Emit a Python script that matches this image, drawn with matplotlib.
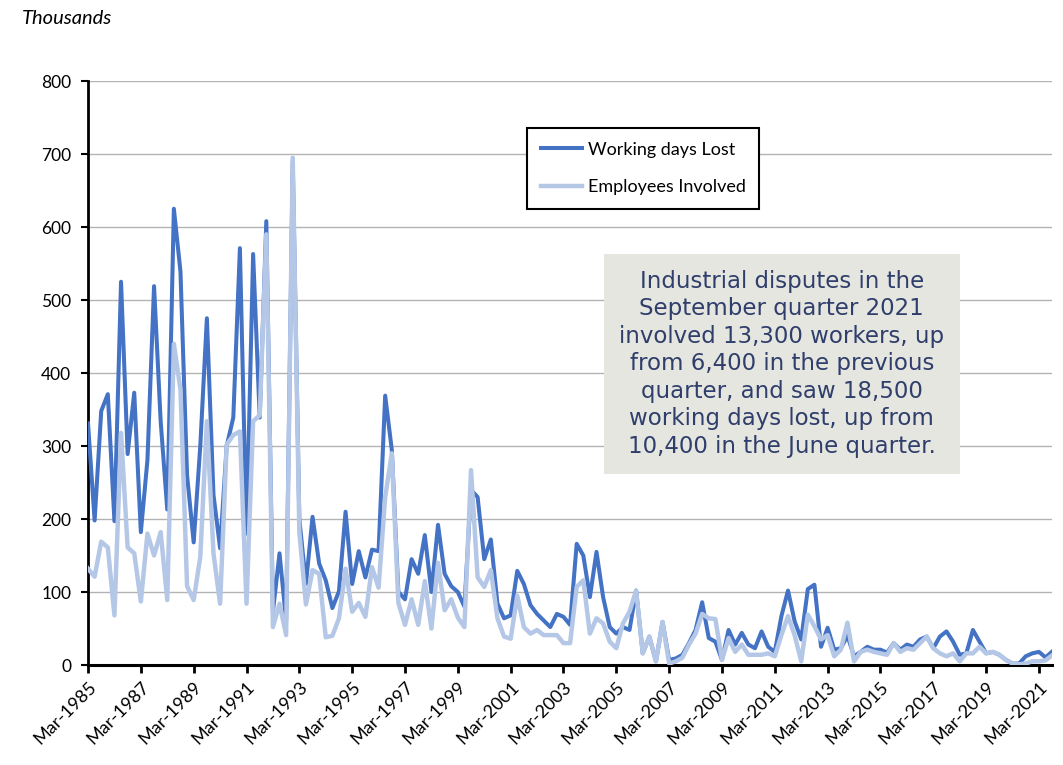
import matplotlib.pyplot as plt
import matplotlib.patches as patches

# Quarterly categories, Mar-1985 .. Sep-2021
MONTHS = ['Mar', 'Jun', 'Sep', 'Dec']
quarters = [f'{m}-{y}' for y in range(1985, 2022) for m in MONTHS][:147]

# Thousands (two years per row)
working_days_lost = [
    331, 198, 348, 371, 197, 525, 289, 373,
    182, 281, 519, 334, 213, 625, 539, 260,
    168, 300, 475, 233, 160, 300, 339, 571,
    180, 563, 339, 608, 73, 153, 60, 690,
    200, 111, 203, 139, 116, 78, 101, 210,
    111, 156, 120, 158, 156, 369, 295, 100,
    90, 145, 125, 178, 100, 192, 125, 108,
    100, 80, 240, 230, 145, 172, 84, 64,
    68, 129, 111, 82, 70, 61, 52, 70,
    66, 55, 166, 150, 93, 155, 93, 52,
    43, 52, 48, 102, 16, 39, 5, 59,
    7, 9, 14, 30, 48, 86, 37, 32,
    7, 48, 28, 44, 28, 23, 46, 25,
    18, 67, 102, 60, 35, 104, 110, 25,
    51, 21, 23, 40, 12, 18, 25, 21,
    21, 17, 30, 21, 28, 25, 35, 39,
    23, 39, 46, 32, 14, 16, 48, 32,
    16, 18, 14, 7, 2, 2, 12, 16,
    18, 10.4, 18.5,
]
employees_involved = [
    132, 121, 169, 161, 68, 318, 161, 153,
    87, 180, 150, 182, 89, 440, 377, 108,
    89, 148, 334, 153, 84, 302, 315, 320,
    84, 334, 342, 590, 52, 84, 41, 695,
    182, 83, 130, 125, 38, 40, 64, 132,
    73, 85, 66, 134, 106, 230, 290, 85,
    55, 90, 55, 115, 50, 140, 75, 90,
    65, 52, 267, 120, 107, 130, 64, 39,
    36, 95, 52, 43, 48, 41, 41, 41,
    30, 30, 107, 116, 43, 64, 57, 32,
    23, 57, 73, 102, 16, 39, 5, 59,
    2, 5, 10, 28, 43, 70, 64, 63,
    7, 37, 18, 28, 14, 14, 14, 16,
    12, 41, 67, 41, 5, 69, 53, 35,
    41, 12, 21, 58, 5, 18, 21, 18,
    16, 14, 30, 18, 23, 21, 30, 39,
    23, 16, 12, 16, 5, 16, 16, 25,
    16, 18, 14, 7, 2, 1, 2, 5,
    5, 6.4, 13.3,
]

tick_labels = ['Mar-1985', 'Mar-1987', 'Mar-1989', 'Mar-1991', 'Mar-1993',
               'Mar-1995', 'Mar-1997', 'Mar-1999', 'Mar-2001', 'Mar-2003',
               'Mar-2005', 'Mar-2007', 'Mar-2009', 'Mar-2011', 'Mar-2013',
               'Mar-2015', 'Mar-2017', 'Mar-2019', 'Mar-2021']
y_ticks = [0, 100, 200, 300, 400, 500, 600, 700, 800]

note = ('Industrial disputes in the\n'
        'September quarter 2021\n'
        'involved 13,300 workers, up\n'
        'from 6,400 in the previous\n'
        'quarter, and saw 18,500\n'
        'working days lost, up from\n'
        '10,400 in the June quarter.')

plt.rcParams['font.family'] = ['Lato', 'DejaVu Sans']

fig = plt.figure(figsize=(10.63, 7.65), dpi=100)
ax = fig.add_axes([0.0828, 0.1307, 0.907, 0.7634])

x = list(range(len(quarters)))
ax.plot(x, working_days_lost, color='#4472C4', lw=2.9,
        solid_joinstyle='round', label='Working days Lost', zorder=3)
ax.plot(x, employees_involved, color='#B4C7E7', lw=3.2,
        solid_joinstyle='round', label='Employees Involved', zorder=4)

ax.set_xlim(0, len(quarters) - 1)
ax.set_ylim(0, 800)
ax.set_yticks(y_ticks)
ax.set_yticklabels([str(v) for v in y_ticks], fontsize=12.5)
ax.set_xticks([quarters.index(t) for t in tick_labels])
ax.set_xticklabels(tick_labels, rotation=45, ha='right', va='top',
                   rotation_mode='anchor', fontsize=13)

ax.yaxis.grid(True, color='#b3b3b3', lw=1)
ax.set_axisbelow(True)
for side in ['top', 'right']:
    ax.spines[side].set_visible(False)
ax.spines['left'].set_linewidth(2)
ax.spines['bottom'].set_linewidth(2.2)
ax.tick_params(axis='x', length=6, width=2, pad=4)
ax.tick_params(axis='y', length=5, width=1.5, pad=7)

fig.text(0.021, 0.976, 'Thousands', fontsize=14.5, style='italic',
         ha='left', va='center')

leg = ax.legend(loc='upper left', bbox_to_anchor=(0.4554, 0.9195), fontsize=13,
                frameon=True, fancybox=False, edgecolor='black', framealpha=1,
                handlelength=2.3, labelspacing=1.2, borderpad=0.75,
                handletextpad=0.3, borderaxespad=0)
leg.get_frame().set_linewidth(1.5)

# grey note box over the plot
box = patches.Rectangle((0.535, 0.327), 0.369, 0.377, transform=ax.transAxes,
                        facecolor='#E6E6E1', edgecolor='none', zorder=5)
ax.add_patch(box)
ax.text(0.7195, 0.5155, note, transform=ax.transAxes, ha='center',
        va='center', fontsize=16.5, color='#2F3E6B', linespacing=1.25,
        family=['DejaVu Sans'], zorder=6)

fig.savefig('out.png', dpi=100)
